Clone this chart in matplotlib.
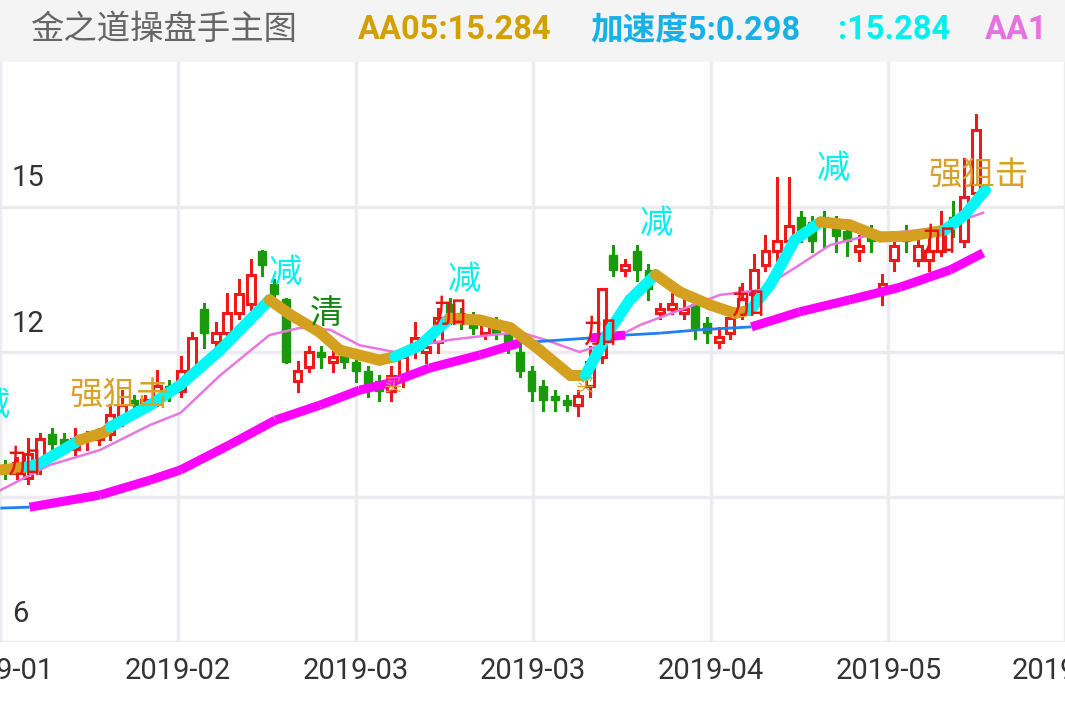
import matplotlib
matplotlib.use("Agg")
import matplotlib.pyplot as plt

plt.rcParams['font.family'] = ['Noto Sans CJK SC', 'DejaVu Sans']

# ---- candle data (price units) ----
opens  = [9.65,9.5,9.4,9.7,10.3,10.2,10.0,10.2,10.2,10.3,10.6,11.0,10.9,11.0,11.3,11.2,11.6,12.9,12.2,12.4,12.8,13.0,14.1,13.4,13.1,11.4,11.7,12.0,11.8,12.0,11.8,11.6,11.4,11.2,11.5,12.1,12.0,12.2,13.0,12.8,12.7,12.4,12.6,12.4,12.0,11.6,11.3,11.1,11.0,10.9,11.3,11.9,14.0,13.7,14.1,13.7,12.8,12.9,12.8,13.0,12.6,12.2,12.4,12.8,13.2,13.8,14.1,14.3,14.8,14.7,14.8,14.7,14.5,14.1,14.5,13.3,13.9,14.5,13.9,13.9,14.1,14.8,14.3,15.3]
closes = [9.5,9.7,9.9,10.2,10.1,10.1,10.2,10.2,10.3,10.7,10.9,10.9,11.0,11.3,11.2,11.6,12.3,12.4,12.4,12.8,13.2,13.6,13.8,13.2,11.8,11.6,12.0,11.9,11.9,11.8,11.6,11.3,11.2,11.5,11.9,12.3,12.1,12.7,12.8,12.6,12.5,12.6,12.4,12.1,11.6,11.2,11.0,11.0,10.9,11.1,11.8,13.3,13.7,13.8,13.7,13.3,12.9,13.0,12.9,12.5,12.4,12.3,12.7,13.1,13.7,14.1,14.3,14.6,14.5,14.3,14.6,14.4,14.3,14.2,14.3,13.4,14.2,14.3,14.2,14.1,14.5,14.6,15.2,16.6]
highs  = [9.75,9.8,10.2,10.3,10.4,10.3,10.4,10.35,10.4,10.9,11.2,11.1,11.1,11.6,11.4,11.9,12.4,13.0,12.6,13.2,13.5,13.9,14.1,13.5,13.1,11.8,12.1,12.1,12.0,12.1,11.9,11.7,11.5,11.7,12.0,12.6,12.2,12.9,13.1,12.9,12.8,12.7,12.7,12.5,12.2,11.7,11.4,11.2,11.1,11.2,12.1,13.3,14.2,13.9,14.2,13.8,13.0,13.2,13.1,13.2,12.7,12.5,12.9,13.4,14.0,14.4,15.6,15.6,14.9,14.8,14.9,14.8,14.6,14.4,14.6,13.6,14.3,14.6,14.3,14.5,14.9,15.1,16.0,16.9]
lows   = [9.4,9.4,9.3,9.5,10.0,9.95,9.9,10.0,10.1,10.2,10.5,10.8,10.8,10.9,11.0,11.1,11.5,12.1,12.0,12.3,12.7,12.9,13.6,13.0,11.8,11.2,11.6,11.7,11.6,11.7,11.4,11.1,11.0,11.0,11.3,11.9,11.8,12.0,12.6,12.5,12.4,12.3,12.3,12.0,11.5,11.0,10.8,10.8,10.8,10.7,11.1,11.8,13.6,13.6,13.5,13.1,12.7,12.8,12.7,12.3,12.2,12.1,12.3,12.7,13.1,13.7,13.9,14.0,14.3,14.1,14.2,14.1,14.0,13.9,14.1,13.0,13.7,14.1,13.8,13.7,14.0,14.4,14.2,15.2]

# ---- main indicator line (gold / cyan segments) ----
main_i = [-0.4,1.9,3.0,6.4,8.5,9.0,12.4,15.0,18.4,22.6,24.4,26.9,28.6,32.0,33.3,35.5,38.0,40.6,43.2,45.7,48.3,49.6,51.7,53.4,55.6,57.7,60.3,62.4,63.7,65.4,67.5,69.7,72.2,74.8,77.4,80.3,82.0,83.8]
main_v = [9.56,9.62,9.7,10.18,10.34,10.45,10.9,11.32,12.04,13.08,12.77,12.41,12.04,11.83,11.9,12.14,12.7,12.66,12.5,12.04,11.52,11.52,12.46,13.08,13.6,13.24,12.97,12.8,12.87,13.39,14.32,14.69,14.63,14.38,14.4,14.52,14.83,15.35]
main_seg = ['gold','cyan','cyan','gold','gold','cyan','cyan','cyan','cyan','gold','gold','gold','gold','gold','cyan','cyan','gold','gold','gold','gold','gold','cyan','cyan','cyan','gold','gold','gold','gold','cyan','cyan','cyan','gold','gold','gold','gold','cyan','cyan']

pink_i = [-0.4,3.8,8.1,12.4,15.0,18.4,22.6,25.2,27.8,30.3,33.3,35.5,38.0,41.5,44.0,46.2,49.1,50.9,54.3,57.7,61.1,64.5,67.9,70.5,73.9,76.5,79.9,83.6]
pink_v = [9.14,9.66,9.97,10.49,10.74,11.52,12.35,12.5,12.46,12.14,12.0,12.14,12.25,12.35,12.41,12.25,12.0,12.14,12.56,12.87,13.18,13.28,13.8,14.21,14.42,14.48,14.57,14.88]

long_i = [-0.4,2.1,8.1,12.4,15.0,19.2,23.1,26.9,30.3,32.9,36.3,40.6,44.0,50.0,53.0,56.0,59.4,63.8,67.9,72.2,76.5,80.8,83.6]
long_v = [8.77,8.79,9.04,9.35,9.56,10.08,10.59,10.9,11.21,11.36,11.67,11.94,12.19,12.29,12.35,12.39,12.46,12.52,12.83,13.08,13.34,13.7,14.05]
long_seg = ['blue','mag','mag','mag','mag','mag','mag','mag','mag','mag','mag','mag','blue','mag','blue','blue','blue','mag','mag','mag','mag','mag']

labels = [("减",-1.0,10.9,'#00f0f0'),("加",1.6,9.7,'#ee1111'),("强狙击",9.8,11.1,'#d8a22a'),
          ("减",24.0,13.65,'#00f0f0'),("清",27.5,12.8,'#118811'),("减",39.3,13.5,'#00f0f0'),
          ("加",38.0,12.8,'#ee1111'),("减",55.7,14.65,'#00f0f0'),("加",50.8,12.4,'#ee1111'),
          ("减",70.8,15.8,'#00f0f0'),("强狙击",83.2,15.65,'#d8a22a'),("加",63.5,13.0,'#ee1111'),
          ("加",79.8,14.3,'#ee1111'),("买",33.2,11.3,'#d8a22a'),("买",49.6,11.3,'#d8a22a')]

xtick_pos = [-0.4,14.8,30.0,45.1,60.3,75.5,90.6]
xtick_lab = ["2019-01","2019-02","2019-03","2019-03","2019-04","2019-05","2019-05"]
ygrid = [6,9,12,15]
ylab = {15:"15",12:"12",6:"6"}

colors = {'gold':'#d4a020','cyan':'#00f8f8','blue':'#2080f0','mag':'#ff00ff'}
num_font = ['Roboto','Noto Sans CJK SC']

fig = plt.figure(figsize=(10.65,7.08), dpi=100)
fig.patch.set_facecolor('white')
hdr = fig.add_axes([0,1-62/708,1,62/708]); hdr.axis('off')
hdr.add_patch(plt.Rectangle((0,0),1,1,transform=hdr.transAxes,color='#f4f4f4'))
fig.text(30/1065,1-30/708,"金之道操盘手主图",fontsize=24,color='#666666',va='center')
fig.text(358/1065,1-30/708,"AA05:15.284",fontsize=23.5,color='#d4a000',va='center',fontweight='bold',family=num_font)
fig.text(590/1065,1-30/708,"加速度5:0.298",fontsize=23.5,color='#18b0e8',va='center',fontweight='bold',family=num_font)
fig.text(838/1065,1-30/708,":15.284",fontsize=23.5,color='#00f0f0',va='center',fontweight='bold',family=num_font)
fig.text(985/1065,1-30/708,"AA1",fontsize=23.5,color='#e870e0',va='center',fontweight='bold',family=num_font)

ax = fig.add_axes([0,1-642/708,1,(642-62)/708])
ax.set_xlim(-0.43,90.6); ax.set_ylim(6,18)
for s in ax.spines.values(): s.set_visible(False)
ax.set_xticks([]); ax.set_yticks([])
for g in ygrid:
    ax.axhline(g,color='#ececf0',lw=2.5,zorder=0)
for xp in xtick_pos:
    ax.axvline(xp,color='#ececf0',lw=2.5,zorder=0)
for v,t in ylab.items():
    ax.text(0.6,v+0.3,t,fontsize=21,color='#333333',va='bottom',ha='left',family=num_font)

w=0.68
for i,(o,c,h,l) in enumerate(zip(opens,closes,highs,lows)):
    up = c>=o
    col = '#ee1a1a' if up else '#1a9a0a'
    ax.plot([i,i],[l,h],color=col,lw=2.2,zorder=2)
    if up:
        ax.add_patch(plt.Rectangle((i-w/2,o),w,max(c-o,0.04),facecolor='white',edgecolor=col,lw=2.2,zorder=3))
    else:
        ax.add_patch(plt.Rectangle((i-w/2,c),w,max(o-c,0.04),facecolor=col,edgecolor=col,lw=1,zorder=3))

ax.plot(pink_i,pink_v,color='#e878e0',lw=1.8,zorder=4)
for k in range(len(long_seg)):
    c=long_seg[k]
    ax.plot(long_i[k:k+2],long_v[k:k+2],color=colors[c],lw=6.5 if c=='mag' else 2,solid_capstyle='butt',zorder=4)
for k in range(len(main_seg)):
    c=main_seg[k]
    ax.plot(main_i[k:k+2],main_v[k:k+2],color=colors[c],lw=8,solid_capstyle='round',zorder=5)

for t,xi,yv,col in labels:
    ax.text(xi,yv,t,fontsize=24 if t!="买" else 13,color=col,ha='center',va='center',zorder=6)

for xp,t in zip(xtick_pos,xtick_lab):
    ax.text(xp,6-0.6,t,fontsize=21,color='#333333',ha='center',va='center',clip_on=False,family=num_font)

fig.savefig('out.png',dpi=100)
